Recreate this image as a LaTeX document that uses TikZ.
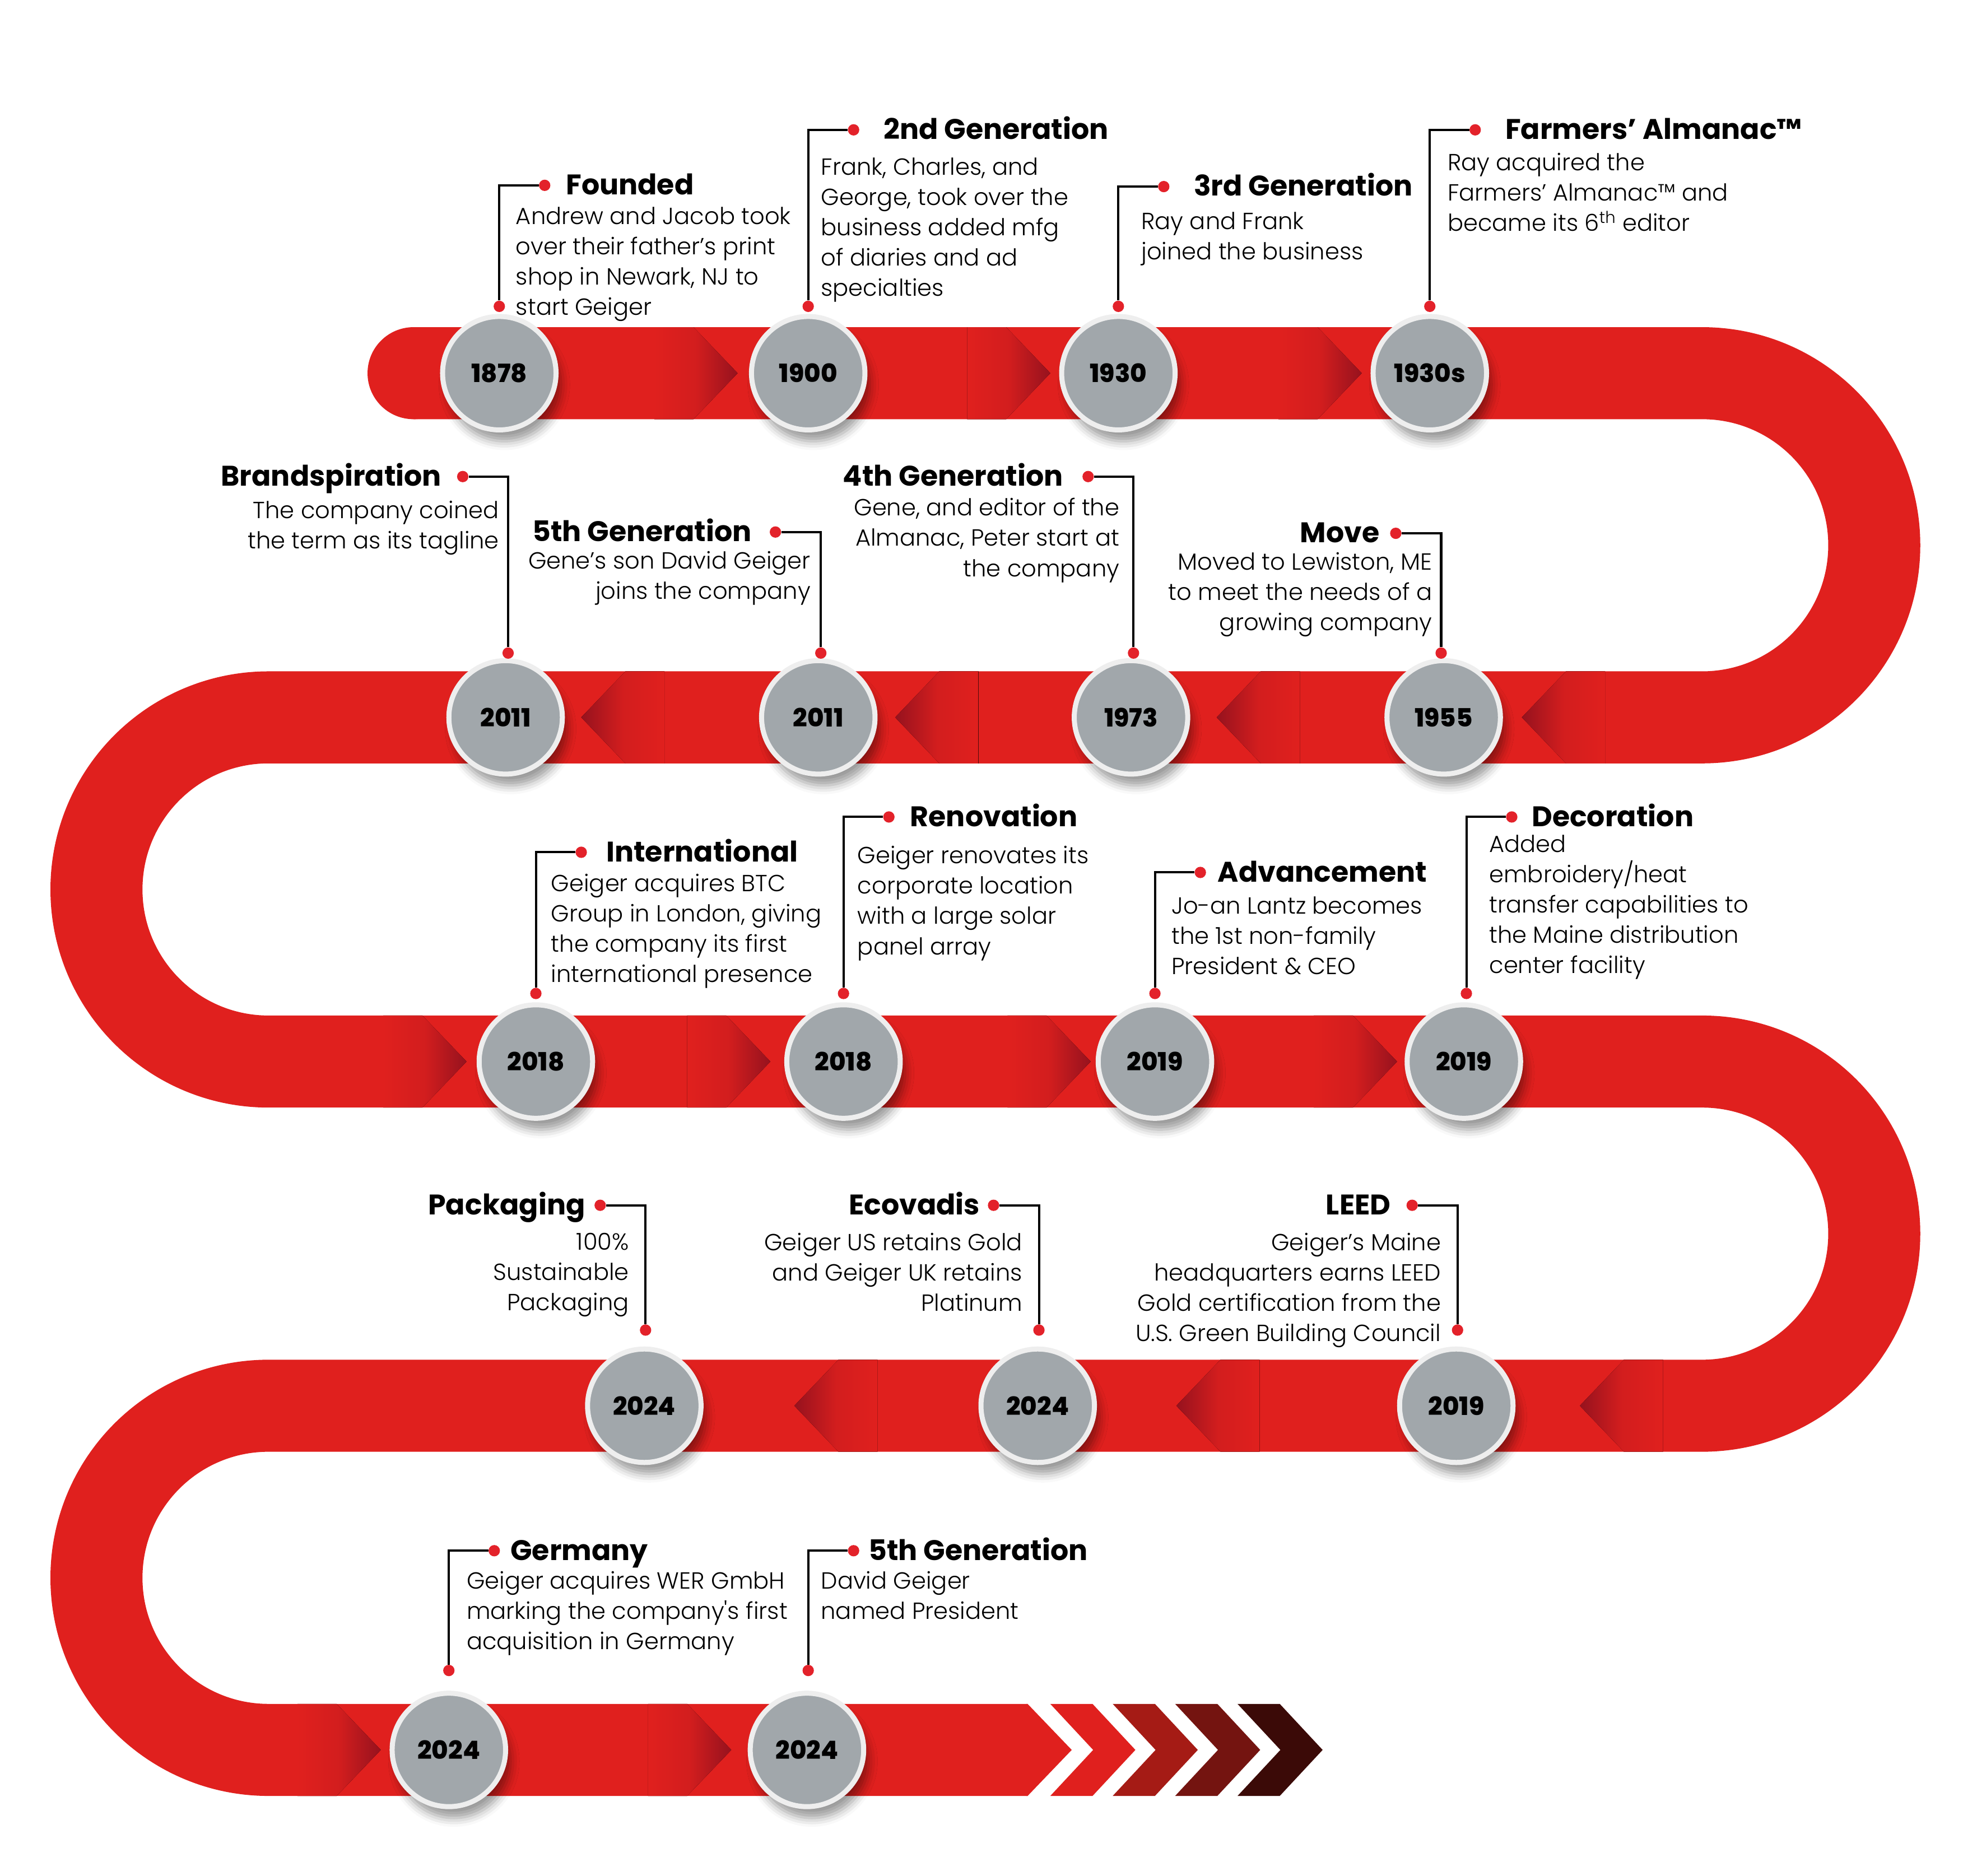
\documentclass[tikz,border=0pt]{standalone}
\usepackage{fontspec}
\IfFontExistsTF{Poppins Light}
    {\setmainfont{Poppins}[UprightFont=* Light, BoldFont=* Bold]}
    {\setmainfont{Poppins}}
\IfFontExistsTF{Poppins ExtraBold}
    {\newfontfamily\yearfont{Poppins ExtraBold}}
    {\newcommand\yearfont{\bfseries}}
\usepackage{tikz}
\usetikzlibrary{positioning}
\usetikzlibrary{shadows.blur}

\definecolor{bandred}{HTML}{E0201E}
\definecolor{arrowdark}{HTML}{96121E}
\definecolor{dotred}{HTML}{E3222A}
\definecolor{yeargrey}{HTML}{A1A7AB}
\definecolor{ringgrey}{HTML}{EEEEEE}
\definecolor{chevA}{HTML}{E0201E}
\definecolor{chevB}{HTML}{A51B15}
\definecolor{chevC}{HTML}{741410}
\definecolor{chevD}{HTML}{3B0A07}

\begin{document}
\begin{tikzpicture}[
        x=1pt, y=-1pt,
        node distance=12pt,
        band/.style={
            draw=bandred,
            line width=73pt
        },
        year/.style={
            circle,
            fill=yeargrey,
            draw=ringgrey,
            line width=4pt,
            minimum size=90pt,
            inner sep=0pt,
            font=\fontsize{20}{24}\selectfont\yearfont,
            blur shadow={shadow xshift=4pt, shadow yshift=-9pt,
                shadow blur radius=7pt, shadow opacity=40}
        },
        dot/.style={
            circle,
            fill=dotred,
            minimum size=9pt,
            inner sep=0pt
        },
        callout/.style={
            draw=black,
            line width=1.8pt
        },
        title/.style={
            inner sep=0pt,
            text height=16pt,
            text depth=1pt,
            font=\fontsize{22.5}{26}\selectfont\bfseries
        },
        body/.style={
            inner sep=0pt,
            font=\fontsize{18.5}{24}\selectfont
        },
        bodyl/.style={body, align=left, anchor=north west},
        bodyr/.style={body, align=right, anchor=north east},
        tipr/.style={
            left color=bandred,
            right color=arrowdark,
            middle color=bandred!82!arrowdark
        },
        tipl/.style={
            left color=arrowdark,
            right color=bandred,
            middle color=bandred!82!arrowdark
        }
    ]

    \useasboundingbox (0,0) rectangle (1568,1488);

    % Band
    \fill[bandred] (328,296) circle[radius=36.5];
    \draw[band] (328,296) -- (1350,296)
        arc[start angle=-90, end angle=90, radius=136.5] -- (213,569)
        arc[start angle=-90, end angle=-270, radius=136.5] -- (1350,842)
        arc[start angle=-90, end angle=90, radius=136.5] -- (213,1115)
        arc[start angle=-90, end angle=-270, radius=136.5] -- (815,1388);
    \fill[bandred] (814,1351.5) -- (815,1351.5) -- (850,1388)
        -- (815,1424.5) -- (814,1424.5) -- cycle;

    % Arrow tips on the band
    \foreach \t/\m in {585/296, 833/296, 1080/296, 370/842, 611/842,
            865/842, 1108/842, 302/1388, 580/1388}
        \fill[tipr] (\t-66,\m-36.5) -- (\t-35,\m-36.5) -- (\t,\m)
            -- (\t-35,\m+36.5) -- (\t-66,\m+36.5) -- cycle;
    \foreach \t/\m in {461/569, 710/569, 965/569, 1207/569, 630/1115,
            933/1115, 1253/1115}
        \fill[tipl] (\t,\m) -- (\t+35,\m-36.5) -- (\t+66,\m-36.5)
            -- (\t+66,\m+36.5) -- (\t+35,\m+36.5) -- cycle;

    % Chevrons
    \foreach \c [count=\k from 0] in {chevA,chevB,chevC,chevD}
        \fill[\c] ({833+49.5*\k},1351.5) -- ++(33.5,0) -- ++(34,36.5)
            -- ++(-34,36.5) -- ++(-33.5,0) -- ++(34,-36.5) -- cycle;

    % Row 1
    \node[year] (y1) at (396,296) {1878};
    \node[dot] (b1) at (396,243) {};
    \node[dot] (t1) at (432,147) {};
    \node[title, right=of t1] (h1) {Founded};
    \node[bodyl] (p1) at (409,164) {Andrew and Jacob took\\over their father’s print\\shop in Newark, NJ to\\start Geiger};
    \draw[callout] (b1) |- (t1);

    \node[year] (y2) at (641,296) {1900};
    \node[dot] (b2) at (641,243) {};
    \node[dot] (t2) at (677,103) {};
    \node[title, right=19pt of t2] (h2) {2nd Generation};
    \node[bodyl] (p2) at (651,125) {Frank, Charles, and\\George, took over the\\business added mfg\\of diaries and ad\\specialties};
    \draw[callout] (b2) |- (t2);

    \node[year] (y3) at (887,296) {1930};
    \node[dot] (b3) at (887,243) {};
    \node[dot] (t3) at (923,148) {};
    \node[title, right=19pt of t3] (h3) {3rd Generation};
    \node[bodyl] (p3) at (905,168) {Ray and Frank\\joined the business};
    \draw[callout] (b3) |- (t3);

    \node[year] (y4) at (1134,296) {1930s};
    \node[dot] (b4) at (1134,243) {};
    \node[dot] (t4) at (1170,103) {};
    \node[title, right=19pt of t4] (h4) {Farmers’ Almanac™};
    \node[bodyl] (p4) at (1148,121) {Ray acquired the\\Farmers’ Almanac™ and\\became its 6\textsuperscript{th} editor};
    \draw[callout] (b4) |- (t4);

    % Row 2
    \node[year] (y5) at (401,569) {2011};
    \node[dot] (b5) at (403,518) {};
    \node[dot] (t5) at (367,378) {};
    \node[title, left=of t5] (h5) {Brandspiration};
    \node[bodyr] (p5) at (396,397) {The company coined\\the term as its tagline};
    \draw[callout] (b5) |- (t5);

    \node[year] (y6) at (649,569) {2011};
    \node[dot] (b6) at (651,518) {};
    \node[dot] (t6) at (615,422) {};
    \node[title, left=14pt of t6] (h6) {5th Generation};
    \node[bodyr] (p6) at (643,437) {Gene’s son David Geiger\\joins the company};
    \draw[callout] (b6) |- (t6);

    \node[year] (y7) at (897,569) {1973};
    \node[dot] (b7) at (899,518) {};
    \node[dot] (t7) at (863,378) {};
    \node[title, left=15pt of t7] (h7) {4th Generation};
    \node[bodyr] (p7) at (888,395) {Gene, and editor of the\\Almanac, Peter start at\\the company};
    \draw[callout] (b7) |- (t7);

    \node[year] (y8) at (1145,569) {1955};
    \node[dot] (b8) at (1143,518) {};
    \node[dot] (t8) at (1107,423) {};
    \node[title, left=8pt of t8] (h8) {Move};
    \node[bodyr] (p8) at (1136,438) {Moved to Lewiston, ME\\to meet the needs of a\\growing company};
    \draw[callout] (b8) |- (t8);

    % Row 3
    \node[year] (y9) at (425,842) {2018};
    \node[dot] (b9) at (425,788) {};
    \node[dot] (t9) at (461,676) {};
    \node[title, right=15pt of t9] (h9) {International};
    \node[bodyl] (p9) at (437,693) {Geiger acquires BTC\\Group in London, giving\\the company its first\\international presence};
    \draw[callout] (b9) |- (t9);

    \node[year] (y10) at (669,842) {2018};
    \node[dot] (b10) at (669,788) {};
    \node[dot] (t10) at (705,648) {};
    \node[title, right=of t10] (h10) {Renovation};
    \node[bodyl] (p10) at (680,671) {Geiger renovates its\\corporate location\\with a large solar\\panel array};
    \draw[callout] (b10) |- (t10);

    \node[year] (y11) at (916,842) {2019};
    \node[dot] (b11) at (916,788) {};
    \node[dot] (t11) at (952,692) {};
    \node[title, right=9pt of t11] (h11) {Advancement};
    \node[bodyl] (p11) at (929,711) {Jo-an Lantz becomes\\the 1st non-family\\President \& CEO};
    \draw[callout] (b11) |- (t11);

    \node[year] (y12) at (1161,842) {2019};
    \node[dot] (b12) at (1163,788) {};
    \node[dot] (t12) at (1199,648) {};
    \node[title, right=11pt of t12] (h12) {Decoration};
    \node[bodyl] (p12) at (1181,662) {Added\\embroidery/heat\\transfer capabilities to\\the Maine distribution\\center facility};
    \draw[callout] (b12) |- (t12);

    % Row 4
    \node[year] (y13) at (511,1115) {2024};
    \node[dot] (b13) at (512,1055) {};
    \node[dot] (t13) at (476,956) {};
    \node[title, left=7pt of t13] (h13) {Packaging};
    \node[bodyr] (p13) at (499,978) {100\%\\Sustainable\\Packaging};
    \draw[callout] (b13) |- (t13);

    \node[year] (y14) at (823,1115) {2024};
    \node[dot] (b14) at (824,1055) {};
    \node[dot] (t14) at (788,956) {};
    \node[title, left=6pt of t14] (h14) {Ecovadis};
    \node[bodyr] (p14) at (811,978) {Geiger US retains Gold\\and Geiger UK retains\\Platinum};
    \draw[callout] (b14) |- (t14);

    \node[year] (y15) at (1155,1115) {2019};
    \node[dot] (b15) at (1156,1055) {};
    \node[dot] (t15) at (1120,956) {};
    \node[title, left=of t15] (h15) {LEED};
    \node[bodyr] (p15) at (1143,978) {Geiger’s Maine\\headquarters earns LEED\\Gold certification from the\\U.S. Green Building Council};
    \draw[callout] (b15) |- (t15);

    % Row 5
    \node[year] (y16) at (356,1388) {2024};
    \node[dot] (b16) at (356,1325) {};
    \node[dot] (t16) at (392,1230) {};
    \node[title, right=8pt of t16] (h16) {Germany};
    \node[bodyl] (p16) at (370,1246) {Geiger acquires WER GmbH\\marking the company\textquotesingle s first\\acquisition in Germany};
    \draw[callout] (b16) |- (t16);

    \node[year] (y17) at (640,1388) {2024};
    \node[dot] (b17) at (641,1325) {};
    \node[dot] (t17) at (677,1230) {};
    \node[title, right=7pt of t17] (h17) {5th Generation};
    \node[bodyl] (p17) at (651,1246) {David Geiger\\named President};
    \draw[callout] (b17) |- (t17);

\end{tikzpicture}
\end{document}
